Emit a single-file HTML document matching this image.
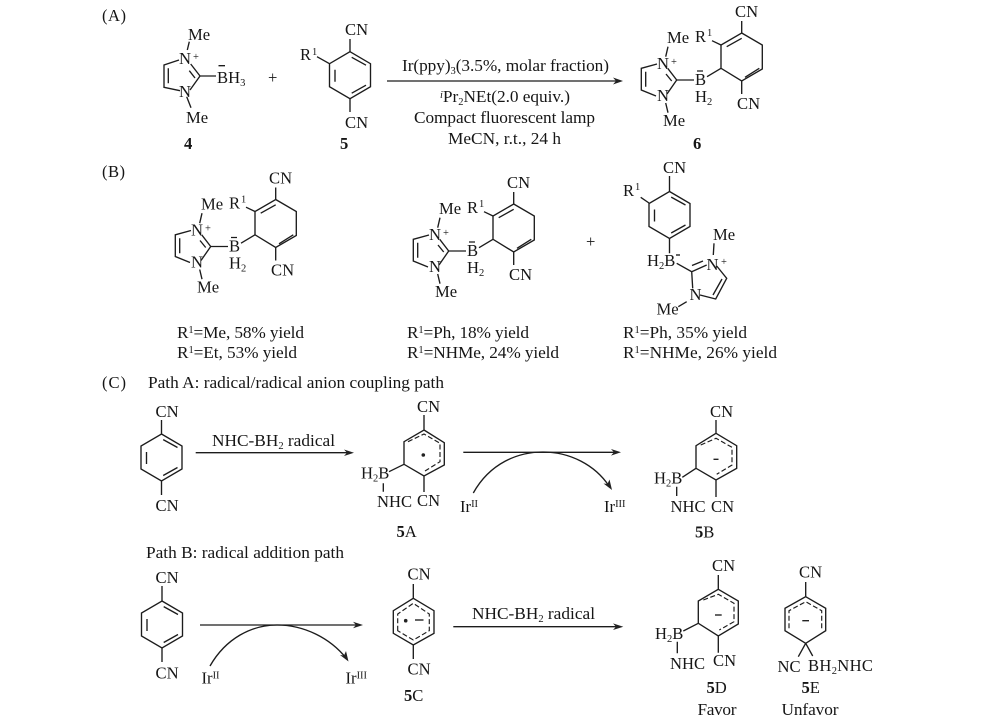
<!DOCTYPE html>
<html>
<head>
<meta charset="utf-8">
<title>Reaction scheme</title>
<style>
html,body{margin:0;padding:0;background:#fff;}
svg{display:block;filter:blur(.35px);}
text{font-family:"Liberation Serif",serif;font-size:16.6px;fill:#161616;}
.t{font-size:17.3px;}
.b{font-weight:bold;}
.l{fill:none;stroke:#1c1c1c;stroke-width:1.35;}
.d{fill:none;stroke:#1c1c1c;stroke-width:1.15;stroke-dasharray:5 2.5;}
.s{font-size:10.5px;}
</style>
</head>
<body>
<svg width="1000" height="720" viewBox="0 0 1000 720" xmlns="http://www.w3.org/2000/svg">
<defs>
<path id="hex" class="l" d="M0,0 L20.5,12 V35 L0,47 L-20.5,35 V12 Z"/>
<path id="benz" class="l" d="M0,0 L20.5,12 V35 L0,47 L-20.5,35 V12 Z M-15,18 V30 M1.7,5.6 L16,13.5 M1.7,41.5 L16,33.5"/>
<g id="prodlines">
<path class="l" d="M741.7,33 L762.3,45 V69 L741.7,81 L721,68.3 V45 Z M726.7,46.7 L741.7,38.3 M745,77.3 L759.3,68.3"/>
<path class="l" d="M741.7,21 V33 M741.7,81 V94 M712,40.7 L721,45 M707,76.7 L721,68.3 M676.7,80 H694 M697,71 H703"/>
<path class="l" d="M657,64 L641.3,68.3 V90 L656,96 M645.7,71.7 V86.7 M667.7,68.3 L676.7,80 L667,94 M666,74 L671.7,81 M668,46.7 L665.7,56.7 M665.7,103 L668,112.7"/>
</g>
</defs>

<!-- (A) -->
<text x="102" y="21" textLength="24">(A)</text>
<!-- compound 4 -->
<path class="l" d="M179,60 L164,65 V87.3 L180,90.7 M168.3,68.3 V83.3 M190.7,64 L200,76 L190,90 M189.3,70.7 L195,78 M200,76 H216 M189.3,41.7 L187.3,50 M186.7,96.7 L191,107.7 M218.5,65.7 H225"/>
<text x="188" y="40">Me</text>
<text x="179" y="64">N</text><text x="193" y="60" class="s">+</text>
<text x="179" y="97">N</text>
<text x="217" y="83">B<tspan>H</tspan><tspan class="s" dy="3">3</tspan></text>
<text x="186" y="123">Me</text>
<text x="184" y="149" class="b">4</text>
<text x="268" y="83">+</text>
<!-- compound 5 -->
<use href="#benz" x="350" y="51.7"/>
<path class="l" d="M350,39 V51.7 M350,98.7 V112 M317,56.7 L329.5,63.7"/>
<text x="345" y="35">CN</text>
<text x="345" y="128">CN</text>
<text x="300" y="60">R</text><text x="312" y="55" class="s">1</text>
<text x="340" y="149" class="b">5</text>
<!-- arrow A -->
<path class="l" d="M387,81 H616"/><polygon points="623,81 613,77.5 616,81 613,84.5" fill="#222"/>
<text class="t" x="402" y="71" textLength="207">Ir(ppy)<tspan class="s" dy="3">3</tspan><tspan dy="-3">(3.5%, molar fraction)</tspan></text>
<text class="t" x="440" y="102" textLength="130"><tspan class="s" dy="-4" font-style="italic">i</tspan><tspan dy="4">Pr</tspan><tspan class="s" dy="3">2</tspan><tspan dy="-3">NEt(2.0 equiv.)</tspan></text>
<text class="t" x="414" y="123" textLength="181">Compact fluorescent lamp</text>
<text class="t" x="448" y="144" textLength="113">MeCN, r.t., 24 h</text>
<!-- compound 6 -->
<use href="#prodlines"/>
<text x="735" y="17">CN</text>
<text x="695" y="42">R</text><text x="707" y="36" class="s">1</text>
<text x="667" y="43">Me</text>
<text x="657" y="69">N</text><text x="671" y="65" class="s">+</text>
<text x="657" y="101">N</text>
<text x="695" y="85">B</text>
<text x="695" y="102">H<tspan class="s" dy="3">2</tspan></text>
<text x="737" y="109">CN</text>
<text x="663" y="126">Me</text>
<text x="693" y="149" class="b">6</text>

<!-- (B) -->
<text x="102" y="177" textLength="23">(B)</text>
<g transform="translate(-466,166.5)">
<use href="#prodlines"/>
<text x="735" y="17">CN</text>
<text x="695" y="42">R</text><text x="707" y="36" class="s">1</text>
<text x="667" y="43">Me</text>
<text x="657" y="69">N</text><text x="671" y="65" class="s">+</text>
<text x="657" y="101">N</text>
<text x="695" y="85">B</text>
<text x="695" y="102">H<tspan class="s" dy="3">2</tspan></text>
<text x="737" y="109">CN</text>
<text x="663" y="126">Me</text>
</g>
<g transform="translate(-228,171)">
<use href="#prodlines"/>
<text x="735" y="17">CN</text>
<text x="695" y="42">R</text><text x="707" y="36" class="s">1</text>
<text x="667" y="43">Me</text>
<text x="657" y="69">N</text><text x="671" y="65" class="s">+</text>
<text x="657" y="101">N</text>
<text x="695" y="85">B</text>
<text x="695" y="102">H<tspan class="s" dy="3">2</tspan></text>
<text x="737" y="109">CN</text>
<text x="663" y="126">Me</text>
</g>
<text x="586" y="247">+</text>
<!-- B3 -->
<use href="#benz" x="669.5" y="191.5"/>
<path class="l" d="M669.5,176 V191.5 M669.5,238.5 V253.3 M640.7,197.3 L649,203 M676.7,263.3 L691.7,271.7 L706.7,265 M692,265.5 L703,261 M716.7,266 L726.7,278.3 L715.7,299 L700,295 M722,279 L713,295 M691.7,271.7 L692.7,288.3 M714,243.3 L713.3,255 M678.3,306.7 L686.7,301.7"/>
<text x="663" y="173">CN</text>
<text x="623" y="196">R</text><text x="635" y="190" class="s">1</text>
<text x="647" y="266">H<tspan class="s" dy="3">2</tspan><tspan dy="-3">B</tspan></text>
<path class="l" d="M676,255 H680"/>
<text x="713" y="240">Me</text>
<text x="706.5" y="270">N</text><text x="721" y="265" class="s">+</text>
<text x="689.5" y="300">N</text>
<text x="656.5" y="314.5">Me</text>
<!-- yields -->
<text class="t" x="177" y="338" textLength="127">R<tspan class="s" dy="-5">1</tspan><tspan dy="5">=Me, 58% yield</tspan></text>
<text class="t" x="177" y="358" textLength="120">R<tspan class="s" dy="-5">1</tspan><tspan dy="5">=Et, 53% yield</tspan></text>
<text class="t" x="407" y="338" textLength="122">R<tspan class="s" dy="-5">1</tspan><tspan dy="5">=Ph, 18% yield</tspan></text>
<text class="t" x="407" y="358" textLength="152">R<tspan class="s" dy="-5">1</tspan><tspan dy="5">=NHMe, 24% yield</tspan></text>
<text class="t" x="623" y="338" textLength="124">R<tspan class="s" dy="-5">1</tspan><tspan dy="5">=Ph, 35% yield</tspan></text>
<text class="t" x="623" y="358" textLength="154">R<tspan class="s" dy="-5">1</tspan><tspan dy="5">=NHMe, 26% yield</tspan></text>

<!-- (C) Path A -->
<text x="102" y="388" textLength="24">(C)</text>
<text class="t" x="148" y="388" textLength="296">Path A: radical/radical anion coupling path</text>
<use href="#benz" x="161.5" y="434"/>
<path class="l" d="M161.5,420 V434 M161.5,481 V495"/>
<text x="155.5" y="417">CN</text>
<text x="155.5" y="511">CN</text>
<path class="l" d="M195.7,452.7 H347"/><polygon points="354,452.7 344,449.5 347,452.7 344,456" fill="#222"/>
<text class="t" x="212" y="446" textLength="123">NHC-BH<tspan class="s" dy="3">2</tspan><tspan dy="-3"> radical</tspan></text>
<!-- 5A -->
<path class="l" d="M424,430 L444.3,442.7 V465 L424,476 L404,464.3 V441.7 Z M424,415 V430 M424,476 V492 M389,471.7 L404,464.3 M383.3,483.3 V491.7"/>
<path class="d" d="M408,441.7 L424,434 L440,443.3 V461.7 L425,471"/>
<circle cx="423.3" cy="455" r="1.8" fill="#222"/>
<text x="417" y="412">CN</text>
<text x="361" y="478.5">H<tspan class="s" dy="3">2</tspan><tspan dy="-3">B</tspan></text>
<text x="377" y="507">NHC</text>
<text x="417" y="506">CN</text>
<text x="396.5" y="537" class="b">5<tspan font-weight="normal">A</tspan></text>
<!-- arrow 2 -->
<path class="l" d="M463.3,452.3 H614"/><polygon points="621,452.3 611,449 614,452.3 611,455.6" fill="#222"/>
<path class="l" d="M473.3,493 C490,463 518,452 543,452 C570,452 595,465 609,486"/><polygon points="612,490 603.5,483.5 607.5,484 609.5,479.5" fill="#222"/>
<text x="460" y="512">Ir<tspan class="s" dy="-5">II</tspan></text>
<text x="604" y="512">Ir<tspan class="s" dy="-5">III</tspan></text>
<!-- 5B -->
<path class="l" d="M716,433.3 L736.7,445.7 V468.3 L716,480 L696,468.3 V445.7 Z M716,420 V433.3 M716,480 V497 M682.3,477.3 L696,468.3 M676.7,486.7 V496"/>
<path class="d" d="M700.7,445 L716,438.3 L732,447.3 V465 L716.7,474.3"/>
<path class="l" d="M713.5,459.3 H718.5"/>
<text x="710" y="417">CN</text>
<text x="654" y="483.5">H<tspan class="s" dy="3">2</tspan><tspan dy="-3">B</tspan></text>
<text x="670.5" y="512">NHC</text>
<text x="711" y="512">CN</text>
<text x="695" y="537.5" class="b">5<tspan font-weight="normal">B</tspan></text>

<!-- Path B -->
<text class="t" x="146" y="558" textLength="198">Path B: radical addition path</text>
<use href="#benz" x="162" y="601"/>
<path class="l" d="M162,586 V601 M162,648 V662"/>
<text x="155.5" y="583">CN</text>
<text x="155.5" y="678.5">CN</text>
<path class="l" d="M200,625 H356"/><polygon points="363,625 353,621.7 356,625 353,628.3" fill="#222"/>
<path class="l" d="M210,666 C226,638 252,625 277,625 C304,625 330,638 346,658"/><polygon points="348.5,661.5 340,655 344,655.5 346,651" fill="#222"/>
<text x="201.5" y="683.5">Ir<tspan class="s" dy="-5">II</tspan></text>
<text x="345.5" y="683.5">Ir<tspan class="s" dy="-5">III</tspan></text>
<!-- 5C -->
<path class="l" d="M413.3,598.3 L434,610.7 V633.3 L413.3,645 L393.3,633.3 V610.7 Z M413.3,584 V598.3 M413.3,645 V659"/>
<path class="d" d="M397.7,630.7 V614 L413.3,603.3 L429.3,614 V630.7 L413.3,640 Z"/>
<circle cx="405.7" cy="620.7" r="1.8" fill="#222"/>
<path class="l" d="M415,620 H423.5"/>
<text x="407.5" y="579.5">CN</text>
<text x="407.5" y="674.5">CN</text>
<text x="404" y="701" class="b">5<tspan font-weight="normal">C</tspan></text>
<!-- arrow 4 -->
<path class="l" d="M453.3,626.7 H616"/><polygon points="623.3,626.7 613,623.4 616,626.7 613,630" fill="#222"/>
<text class="t" x="472" y="619" textLength="123">NHC-BH<tspan class="s" dy="3">2</tspan><tspan dy="-3"> radical</tspan></text>
<!-- 5D -->
<path class="l" d="M718.3,589.3 L738.3,601 V624 L718.3,636 L698.3,623.3 V601 Z M718.3,575 V589.3 M718.3,636 V652.7 M683.3,631 L698.3,623.3 M677.3,641.7 V653.3"/>
<path class="d" d="M703.3,600 L718.3,594.3 L734,603.3 V621.7 L719.3,630"/>
<path class="l" d="M715,615 H721.7"/>
<text x="712" y="571">CN</text>
<text x="655" y="639">H<tspan class="s" dy="3">2</tspan><tspan dy="-3">B</tspan></text>
<text x="670" y="669">NHC</text>
<text x="713" y="666">CN</text>
<text x="706.5" y="693" class="b">5<tspan font-weight="normal">D</tspan></text>
<text class="t" x="697.5" y="715" textLength="39">Favor</text>
<!-- 5E -->
<path class="l" d="M805.7,596.7 L825.7,608.3 V630.7 L805.7,643.3 L785,630.7 V608.3 Z M805.7,582 V596.7 M805.7,643.3 L798.3,656.7 M805.7,643.3 L812.7,656"/>
<path class="d" d="M789,628.3 V610.7 L805.7,601.7 L821.7,610.7 V628.3"/>
<path class="l" d="M802.3,620.7 H809"/>
<text x="799" y="577.5">CN</text>
<text x="777.5" y="672">NC</text>
<text x="808" y="671" textLength="65">BH<tspan class="s" dy="3">2</tspan><tspan dy="-3">NHC</tspan></text>
<text x="801.5" y="693" class="b">5<tspan font-weight="normal">E</tspan></text>
<text class="t" x="781.5" y="715" textLength="57">Unfavor</text>
</svg>
</body>
</html>
